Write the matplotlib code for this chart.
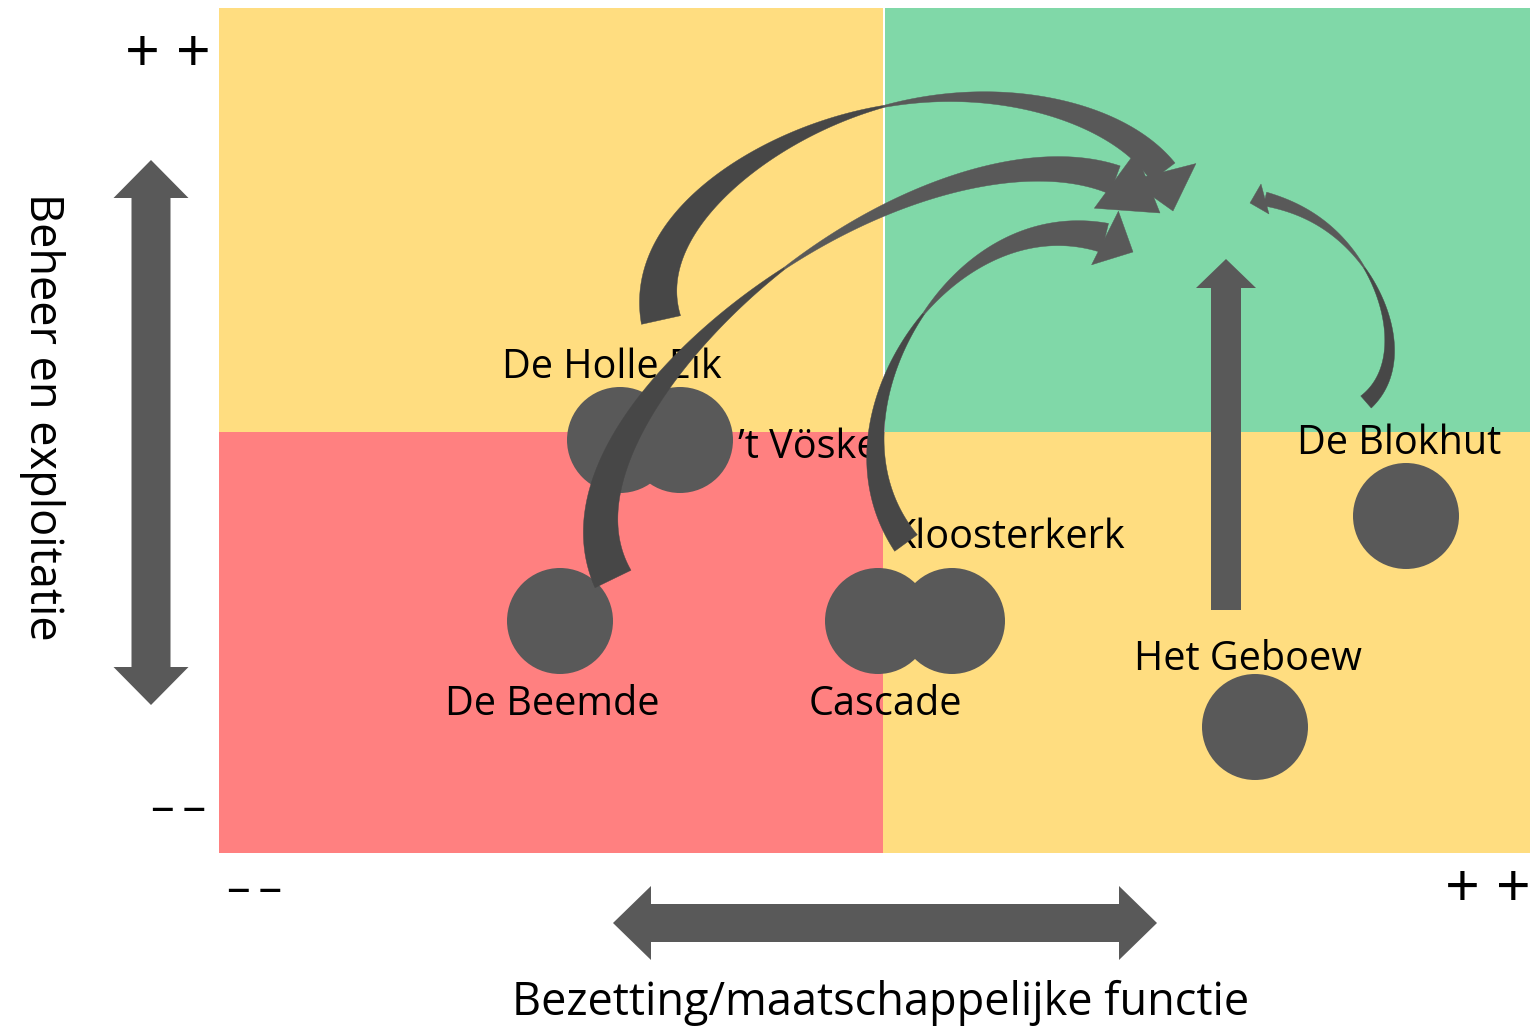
import numpy as np
import matplotlib
matplotlib.use("Agg")
import matplotlib.pyplot as plt
from matplotlib.patches import Rectangle, Circle, Polygon, FancyArrow

plt.rcParams['font.family'] = ['Open Sans', 'DejaVu Sans']

# ---------------- data ----------------
# quadrant grid (pixel space of the slide)
quad_x_edges = [219, 883, 1530]
quad_y_edges = [8, 432, 853]
quad_colors = [["#FFDD80", "#80D8A8"],   # top row: left, right
               ["#FF8080", "#FFDD80"]]   # bottom row: left, right

# bubbles (one circle per building)
bubble_x = [620, 680, 560, 878, 952, 1406, 1255]
bubble_y = [440, 440, 621, 621, 621, 516, 727]
bubble_radius = 53

# labels
label_text = ["De Holle Eik", "\u2019t Vöske", "Kloosterkerk", "De Blokhut",
              "Het Geboew", "De Beemde", "Cascade"]
label_x = [612, 738, 1008, 1399, 1248, 552, 885]
label_y = [378, 458, 548, 454, 670, 715, 715]
label_ha = ["center", "left", "center", "center", "center", "center", "center"]

# curved development arrows: centre-line points (tail -> head base),
# index of the twist point, widths (tail, twist, head base), head tip, head half width
curved_points = [
    [(661, 320), (660, 287), (675, 237), (710, 193), (762, 158), (820, 128),
     (883, 104), (990, 98), (1080, 118), (1140, 145), (1163, 172)],
    [(613, 579), (600, 533), (605, 487), (626, 440), (667, 378), (742, 300),
     (785, 268), (880, 212), (980, 178), (1063, 169), (1115, 180)],
    [(906, 543), (886, 505), (876, 460), (880, 400), (900, 352), (926, 316),
     (973, 262), (1025, 240), (1080, 235), (1105, 238)],
    [(1366, 402), (1384, 380), (1389, 347), (1382, 306), (1365, 268),
     (1320, 222), (1290, 207), (1265, 199)],
]
curved_twist = [6, 6, 5, 4]
curved_widths = [(40, 2, 30), (40, 2, 30), (28, 2, 30), (16, 1.5, 14)]
curved_tips = [(1173, 211), (1160, 213), (1133, 252), (1250, 203)]
curved_head_half = [34, 35, 30, 15.5]

# straight arrows
up_arrow = dict(x=1226, y0=610, y1=259)
v_double = dict(x=151, y0=160, y1=705)
h_double = dict(y=923, x0=613, x1=1157)

# axis texts
y_title = "Beheer en exploitatie"
x_title = "Bezetting/maatschappelijke functie"
high_mark = "+ +"
low_mark = "\u2013\u2009\u2013"

DARK = "#474747"
GREY = "#595959"


# ---------------- helpers ----------------
def smooth_curve(points, k, n=400):
    P = np.asarray(points, float)
    s = np.concatenate([[0], np.cumsum(np.linalg.norm(np.diff(P, axis=0), axis=1))])
    t = s / s[-1]
    deg = min(5, len(P) - 4)
    w = np.ones(len(P))
    w[0] = w[-1] = 25
    cx = np.polyfit(t, P[:, 0], deg, w=w)
    cy = np.polyfit(t, P[:, 1], deg, w=w)
    tt = np.linspace(0, 1, n)
    curve = np.column_stack([np.polyval(cx, tt), np.polyval(cy, tt)])
    split = int(np.argmin(np.abs(tt - t[k])))
    return curve, split


def band_poly(curve, w_start, w_end):
    d = np.gradient(curve, axis=0)
    d /= np.linalg.norm(d, axis=1)[:, None]
    nrm = np.column_stack([-d[:, 1], d[:, 0]])
    s = np.concatenate([[0], np.cumsum(np.linalg.norm(np.diff(curve, axis=0), axis=1))])
    w = w_start + (w_end - w_start) * s / s[-1]
    left = curve + nrm * w[:, None] / 2
    right = curve - nrm * w[:, None] / 2
    return np.vstack([left, right[::-1]])


def double_arrow(p0, p1, width, head_width, head_length):
    p0 = np.asarray(p0, float)
    p1 = np.asarray(p1, float)
    d = (p1 - p0) / np.linalg.norm(p1 - p0)
    nv = np.array([-d[1], d[0]])
    a = p0 + d * head_length
    b = p1 - d * head_length
    hw, sw = head_width / 2, width / 2
    return [p0, a + nv * hw, a + nv * sw, b + nv * sw, b + nv * hw, p1,
            b - nv * hw, b - nv * sw, a - nv * sw, a - nv * hw]


# ---------------- figure ----------------
fig = plt.figure(figsize=(15.3, 10.3), dpi=100)
ax = fig.add_axes([0, 0, 1, 1])
ax.set_xlim(0, 1530)
ax.set_ylim(1030, 0)
ax.axis("off")

# quadrants
for r in range(2):
    for c in range(2):
        x0 = quad_x_edges[c] + (2 if (r == 0 and c == 1) else 0)
        ax.add_patch(Rectangle((x0, quad_y_edges[r]), quad_x_edges[c + 1] - x0,
                               quad_y_edges[r + 1] - quad_y_edges[r],
                               facecolor=quad_colors[r][c], edgecolor="none", zorder=0))

# bubbles
for bx, by in zip(bubble_x, bubble_y):
    ax.add_patch(Circle((bx, by), bubble_radius, facecolor=GREY, edgecolor="none", zorder=2))

# labels
for t, lx, ly, ha in zip(label_text, label_x, label_y, label_ha):
    ax.text(lx, ly, t, ha=ha, va="baseline", fontsize=28.5, color="black", zorder=3)

# straight arrows
ax.add_patch(FancyArrow(up_arrow["x"], up_arrow["y0"], 0, up_arrow["y1"] - up_arrow["y0"],
                        width=30, head_width=60, head_length=29, length_includes_head=True,
                        facecolor=GREY, edgecolor="none", zorder=4))
ax.add_patch(Polygon(double_arrow((v_double["x"], v_double["y0"]), (v_double["x"], v_double["y1"]),
                                  39, 75, 38), closed=True, facecolor=GREY, edgecolor="none", zorder=4))
ax.add_patch(Polygon(double_arrow((h_double["x0"], h_double["y"]), (h_double["x1"], h_double["y"]),
                                  38, 74, 38), closed=True, facecolor=GREY, edgecolor="none", zorder=4))

# curved arrows
for pts, k, (w0, wt, w1), tip, hh in zip(curved_points, curved_twist, curved_widths,
                                         curved_tips, curved_head_half):
    curve, split = smooth_curve(pts, k)
    dark_part = curve[:split + 1]
    light_part = curve[split:]
    ax.add_patch(Polygon(band_poly(dark_part, w0, wt), closed=True, facecolor=DARK,
                         edgecolor=DARK, lw=0.3, zorder=5))
    ax.add_patch(Polygon(band_poly(light_part, wt, w1), closed=True, facecolor=GREY,
                         edgecolor=GREY, lw=0.3, zorder=5))
    M = curve[-1]
    T = np.asarray(tip, float)
    d = (T - M) / np.linalg.norm(T - M)
    nv = np.array([-d[1], d[0]])
    ax.add_patch(Polygon([M + nv * hh, T, M - nv * hh], closed=True, facecolor=GREY,
                         edgecolor=GREY, lw=0.3, zorder=5))

# axis end marks
ax.text(168, 72, high_mark, ha="center", va="baseline", fontsize=44, color="black")
ax.text(179, 822, low_mark, ha="center", va="baseline", fontsize=34, color="black")
ax.text(255, 903, low_mark, ha="center", va="baseline", fontsize=34, color="black")
ax.text(1488, 907, high_mark, ha="center", va="baseline", fontsize=44, color="black")

# axis titles
ax.text(881, 1015, x_title, ha="center", va="baseline", fontsize=32.5, color="black")
ax.text(42, 417, y_title, ha="center", va="center", rotation=-90, fontsize=32.5, color="black")

fig.savefig("out.png", dpi=100)
